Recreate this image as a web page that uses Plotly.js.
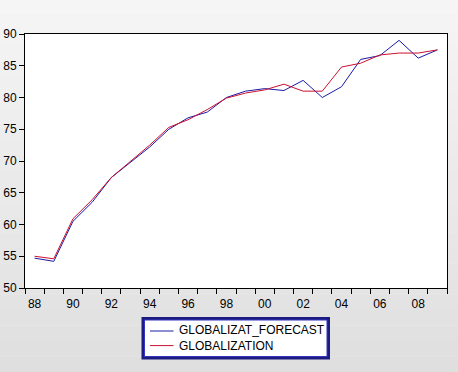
<!DOCTYPE html>
<html><head><meta charset="utf-8">
<script src="https://cdn.plot.ly/plotly-3.0.1.min.js"></script>
<style>html,body{margin:0;padding:0;background:#eeeeee}#chart{width:458px;height:372px}</style>
</head><body><div id="chart"></div>
<script>
var years = [1988,1989,1990,1991,1992,1993,1994,1995,1996,1997,1998,1999,2000,2001,2002,2003,2004,2005,2006,2007,2008,2009];
var forecast = [54.7,54.2,60.5,63.5,67.4,69.8,72.2,75.0,76.8,77.7,80.0,81.0,81.4,81.1,82.7,80.0,81.7,86.0,86.6,89.0,86.2,87.5];
var actual   = [55.0,54.6,60.9,63.9,67.4,70.0,72.5,75.3,76.5,78.1,79.9,80.7,81.2,82.1,81.0,81.0,84.8,85.4,86.7,87.0,87.0,87.5];
var seriesNames = ["GLOBALIZAT_FORECAST","GLOBALIZATION"];
var tickYears = [1988,1990,1992,1994,1996,1998,2000,2002,2004,2006,2008];
var tickText = ["88","90","92","94","96","98","00","02","04","06","08"];
var boundaryTicks = [1987.5,1988.5,1989.5,1990.5,1991.5,1992.5,1993.5,1994.5,1995.5,1996.5,1997.5,1998.5,1999.5,2000.5,2001.5,2002.5,2003.5,2004.5,2005.5,2006.5,2007.5,2008.5,2009.5];
var colors = ["#1a1aa6","#cc1030"];

var W = 458, H = 372, mL = 25, mR = 11, mT = 34, mB = 84;
var pw = W - mL - mR, ph = H - mT - mB;
function px(x){ return (x - mL) / pw; }
function py(y){ return (H - mB - y) / ph; }

var shapes = [];
// background gradient
var nb = 24;
for (var i = 0; i < nb; i++) {
  var t = i / (nb - 1);
  var c = Math.round(245 - t * 22);
  shapes.push({type:'rect', xref:'paper', yref:'paper', layer:'below',
    x0:px(0), x1:px(W), y0:py(H * (i + 1) / nb), y1:py(H * i / nb),
    fillcolor:'rgb('+c+','+c+','+c+')', line:{width:0}});
}
shapes.push({type:'rect', xref:'paper', yref:'paper', layer:'below',
  x0:0, x1:1, y0:0, y1:1, fillcolor:'#ffffff', line:{width:0}});
// legend box
shapes.push({type:'rect', xref:'paper', yref:'paper',
  x0:px(143), x1:px(328.5), y0:py(358), y1:py(318.5), fillcolor:'#ffffff', line:{color:'#1c1c80', width:3}});
shapes.push({type:'rect', xref:'paper', yref:'paper',
  x0:px(144.5), x1:px(327), y0:py(356.5), y1:py(320), fillcolor:'rgba(0,0,0,0)', line:{color:'#3434c0', width:1}});
var sampleY = [331, 345.6];
for (var k = 0; k < 2; k++) {
  shapes.push({type:'line', xref:'paper', yref:'paper',
    x0:px(150), x1:px(173.5), y0:py(sampleY[k]), y1:py(sampleY[k]), line:{color:colors[k], width:1}});
}
var annotations = [{xref:'paper', yref:'paper', x:px(177.5), y:py(338.3), xanchor:'left', yanchor:'middle', align:'left',
  text:seriesNames.join('<br>'), showarrow:false, borderpad:0,
  font:{family:'Liberation Sans, Arial, sans-serif', size:12, color:'#000'}}];

var data = [
  {x:years, y:forecast, name:seriesNames[0], type:'scatter', mode:'lines', line:{color:colors[0], width:1}},
  {x:years, y:actual, name:seriesNames[1], type:'scatter', mode:'lines', line:{color:colors[1], width:1}}
];
var layout = {
  width:W, height:H, margin:{l:mL, r:mR, t:mT, b:mB, pad:0},
  paper_bgcolor:'rgba(0,0,0,0)', plot_bgcolor:'rgba(0,0,0,0)',
  showlegend:false,
  font:{family:'Liberation Sans, Arial, sans-serif', size:12, color:'#000'},
  xaxis:{range:[1987.5,2009.5], tickmode:'array', tickvals:tickYears, ticktext:tickText,
    ticks:'outside', ticklen:5, tickcolor:'rgba(0,0,0,0)', showgrid:false, zeroline:false,
    showline:true, linecolor:'#000', linewidth:1, mirror:true,
    minor:{tickmode:'array', tickvals:boundaryTicks, ticks:'outside', ticklen:5, tickcolor:'#000', tickwidth:1, showgrid:false},
    tickfont:{size:12}},
  yaxis:{range:[50,90], tickmode:'linear', tick0:50, dtick:5, ticks:'outside', ticklen:5, tickcolor:'#000',
    showgrid:false, zeroline:false, showline:true, linecolor:'#000', linewidth:1, mirror:true, tickfont:{size:12}},
  shapes:shapes, annotations:annotations
};
Plotly.newPlot('chart', data, layout, {staticPlot:true, displayModeBar:false});
</script></body></html>
